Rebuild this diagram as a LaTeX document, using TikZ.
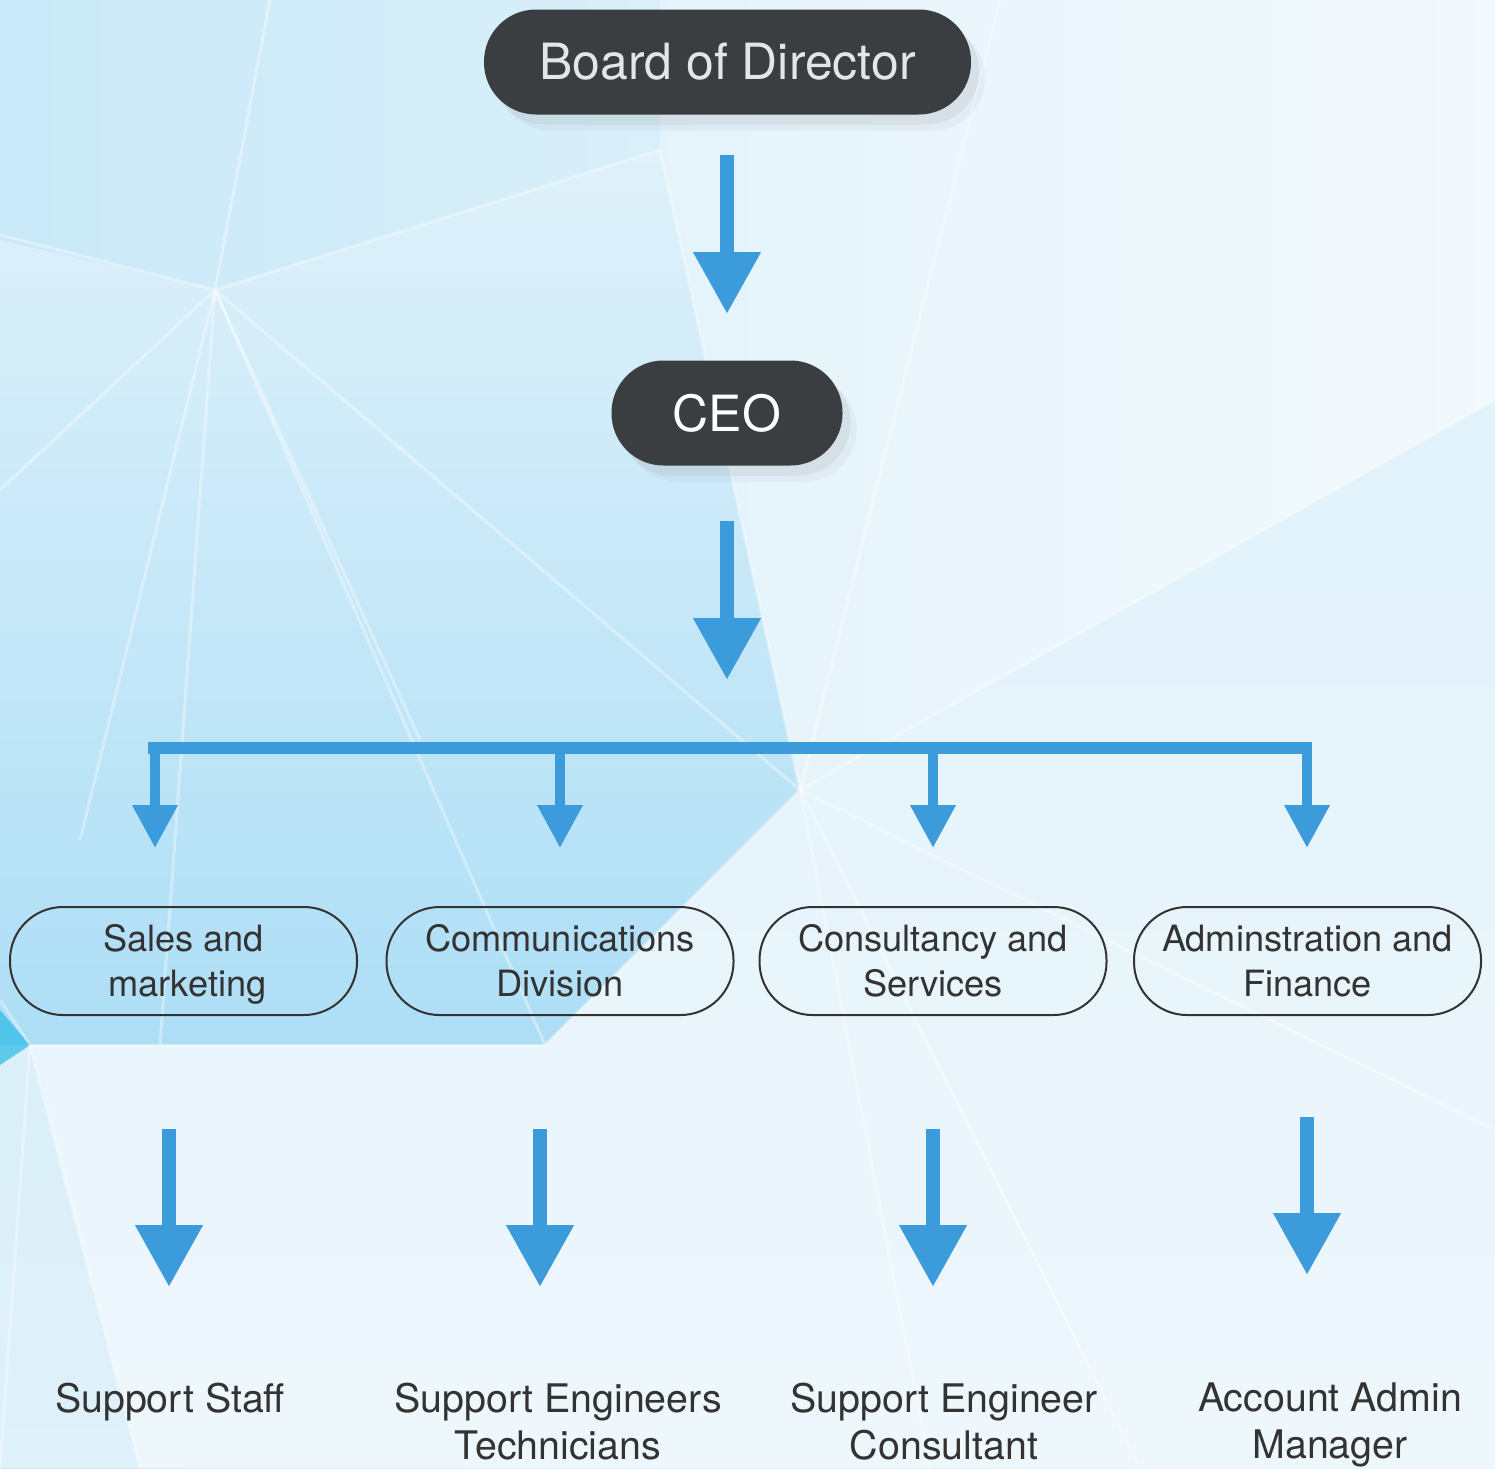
\documentclass[tikz,border=0pt]{standalone}
\usepackage{fontspec}
\setmainfont{TeX Gyre Heros}
\usetikzlibrary{arrows.meta,
	calc,
	positioning,
	shadows,
	shapes}
\definecolor{boxdark}{HTML}{3A3E41}
\definecolor{arrowblue}{HTML}{3B9BDB}
\definecolor{textdark}{HTML}{333333}
\definecolor{bgpale}{HTML}{EEF7FC}
\definecolor{bgblue}{HTML}{C9E9F8}
\definecolor{bgdeep}{HTML}{ADDEF6}
\tikzset{
	topbox/.style={fill=boxdark, rounded corners=5.2mm, minimum height=10.5mm,
		drop shadow={opacity=0.07, shadow xshift=1.4mm, shadow yshift=-1.6mm},
		drop shadow={opacity=0.1, shadow xshift=0.8mm, shadow yshift=-1mm},
		font=\fontsize{14.2}{17}\selectfont},
	deptbox/.style={draw=textdark, line width=0.2mm, rounded corners=5.3mm,
		minimum width=34.7mm, minimum height=10.8mm, align=center, text=textdark,
		inner sep=1pt, font=\fontsize{10.3}{12.8}\selectfont},
	staffnode/.style={anchor=north, align=center, text=textdark, inner sep=0pt,
		font=\fontsize{11.2}{13.5}\selectfont},
	bigarrow/.style={draw=arrowblue, line width=1.4mm, -{Triangle[length=6.2mm,width=6.4mm]}},
	droparrow/.style={draw=arrowblue, line width=1mm, -{Triangle[length=4.3mm,width=4.3mm]}},
	bar/.style={draw=arrowblue, line width=1.2mm},
	facet/.style={draw=white, line width=0.3mm, opacity=0.35},
}

\begin{document}
\begin{tikzpicture}[x=0.1mm,y=-0.1mm]
\useasboundingbox (0,0) rectangle (1495,1468);
\clip (0,0) rectangle (1495,1468);

% background
\shade[left color=bgblue, right color=bgpale] (0,0) rectangle (1495,1468);
\shade[top color=bgblue!40!bgpale, bottom color=bgdeep] (0,240)--(215,290)--(660,150)--(800,790)--(545,1045)--(0,1045)--cycle;
\fill[white, opacity=0.3] (660,0)--(1495,0)--(1495,400)--(800,790)--(660,150)--cycle;
\shade[top color=bgpale!65!bgblue, bottom color=bgpale] (0,1045)--(545,1045)--(800,790)--(1495,400)--(1495,1468)--(0,1468)--cycle;
\fill[bgblue, opacity=0.4] (0,1045)--(30,1045)--(140,1468)--(0,1468)--cycle;
\fill[arrowblue!70!cyan, opacity=0.7] (0,1010)--(30,1045)--(0,1065)--cycle;
\coordinate (hubA) at (215,290);
\coordinate (hubB) at (800,790);
\coordinate (hubC) at (30,1045);
\foreach \p in {(0,235),(270,0),(660,150),(0,490),(80,840),(160,1045),(420,740),(545,1045)}
	\draw[facet] (hubA) -- \p;
\draw[facet] (hubA) -- (hubB);
\foreach \p in {(660,150),(1495,400),(545,1045),(1140,1468),(1495,1130),(930,1468),(1000,0)}
	\draw[facet] (hubB) -- \p;
\foreach \p in {(0,1468),(140,1468),(545,1045),(0,1000)}
	\draw[facet] (hubC) -- \p;

% boxes
\node[topbox, minimum width=48.7mm, text=white!90!black] (board) at (727.5,62) {Board of Director};
\node[topbox, minimum width=23.1mm, text=white] (ceo) at (727,413) {CEO};

\node[deptbox] (sales) at (183.5,961) {Sales and\\ \hspace{0.8mm}marketin\smash{g}};
\node[deptbox] (comm) at (560,961) {Communications\\ Division};
\node[deptbox] (cons) at (933,961) {Consultancy and\\ Services};
\node[deptbox] (admin) at (1307.5,961) {Adminstration and\\ Finance};

\node[staffnode] (staff) at (170,1382) {Support Staff};
\node[staffnode] (tech) at (558,1382) {Support Engineers\\ Technicians};
\node[staffnode] (consult) at (944,1382) {Support Engineer\\ Consultant};
\node[staffnode] (account) at (1330,1382) {Account Admin\\ Manager};

% arrows
\coordinate (a1s) at (727,155);
\coordinate (a1e) at (727,314);
\coordinate (a2s) at (727,521);
\coordinate (a2e) at (727,680);
\draw[bigarrow] (a1s) -- (a1e);
\draw[bigarrow] (a2s) -- (a2e);

\coordinate (barL) at (148,748);
\coordinate (barR) at (1312,748);
\draw[bar] (barL) -- (barR);
\foreach \x in {155,560,933,1307}
	\draw[droparrow] (\x,748) -- (\x,848);

\foreach \x/\ys/\ye in {169/1129/1287,540/1129/1287,933/1129/1287,1307/1117/1275}
	\draw[bigarrow] (\x,\ys) -- (\x,\ye);
\end{tikzpicture}
\end{document}
